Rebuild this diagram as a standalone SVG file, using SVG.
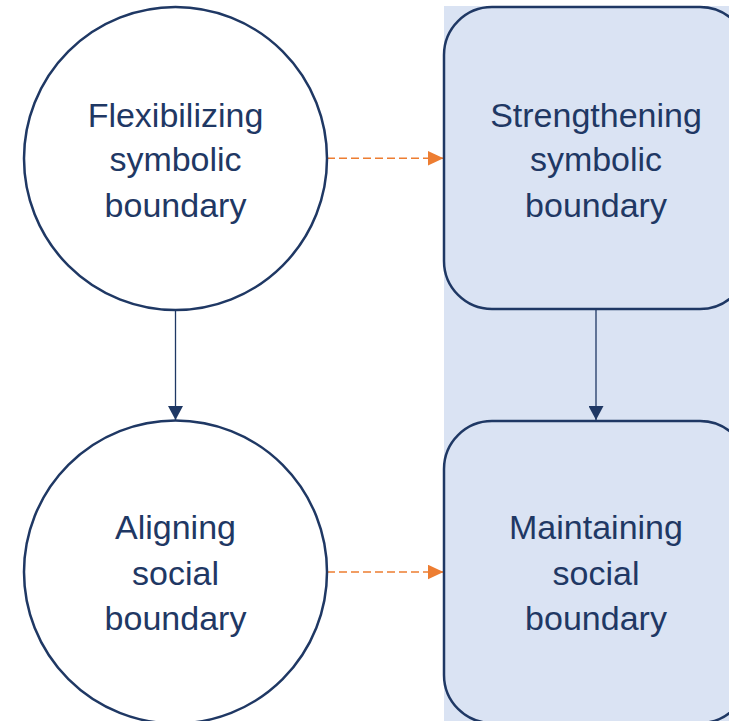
<svg xmlns="http://www.w3.org/2000/svg" width="729" height="721" viewBox="0 0 729 721">
  <defs>
    <style>
      .circle { fill: #FFFFFF; stroke: #1F3864; stroke-width: 2.5; }
      .box { fill: #DAE3F3; stroke: #1F3864; stroke-width: 2.5; }
      .label { font-family: "Liberation Sans", Arial, sans-serif; font-size: 34px; fill: #1F3864; text-anchor: middle; }
      .solid { stroke: #1F3864; stroke-width: 1.3; fill: none; }
      .dashed { stroke: #ED7D31; stroke-width: 1.5; stroke-dasharray: 8 4; fill: none; }
    </style>
    <marker id="arrowNavy" markerWidth="14" markerHeight="15" refX="14" refY="7.5" orient="auto" markerUnits="userSpaceOnUse">
      <path d="M0,0 L14,7.5 L0,15 Z" fill="#1F3864"/>
    </marker>
    <marker id="arrowOrange" markerWidth="16" markerHeight="15" refX="16" refY="7.5" orient="auto" markerUnits="userSpaceOnUse">
      <path d="M0,0 L16,7.5 L0,15 Z" fill="#ED7D31"/>
    </marker>
  </defs>
  <rect x="0" y="0" width="729" height="721" fill="#FFFFFF"/>
  <rect id="panel" x="444" y="6" width="290" height="720" fill="#DAE3F3"/>

  <g id="connectors">
    <line class="solid" x1="175.5" y1="310" x2="175.5" y2="420" marker-end="url(#arrowNavy)"/>
    <line class="solid" x1="596" y1="309" x2="596" y2="420" marker-end="url(#arrowNavy)"/>
    <line class="dashed" x1="327" y1="158.3" x2="443.5" y2="158.3" marker-end="url(#arrowOrange)"/>
    <line class="dashed" x1="327" y1="572" x2="443.5" y2="572" marker-end="url(#arrowOrange)"/>
  </g>

  <g id="flexibilizing">
    <circle class="circle" cx="175.5" cy="158.5" r="151.5"/>
    <text class="label" x="175.5" y="126.5">Flexibilizing</text>
    <text class="label" x="175.5" y="171">symbolic</text>
    <text class="label" x="175.5" y="216.5">boundary</text>
  </g>

  <g id="strengthening">
    <rect class="box" x="444" y="7" width="304" height="302" rx="48" ry="48"/>
    <text class="label" x="596" y="126.5">Strengthening</text>
    <text class="label" x="596" y="171">symbolic</text>
    <text class="label" x="596" y="216.5">boundary</text>
  </g>

  <g id="aligning">
    <circle class="circle" cx="175.5" cy="572" r="151.5"/>
    <text class="label" x="175.5" y="538.5">Aligning</text>
    <text class="label" x="175.5" y="584.5">social</text>
    <text class="label" x="175.5" y="629.5">boundary</text>
  </g>

  <g id="maintaining">
    <rect class="box" x="444" y="421" width="304" height="302" rx="48" ry="48"/>
    <text class="label" x="596" y="538.5">Maintaining</text>
    <text class="label" x="596" y="584.5">social</text>
    <text class="label" x="596" y="629.5">boundary</text>
  </g>
</svg>
